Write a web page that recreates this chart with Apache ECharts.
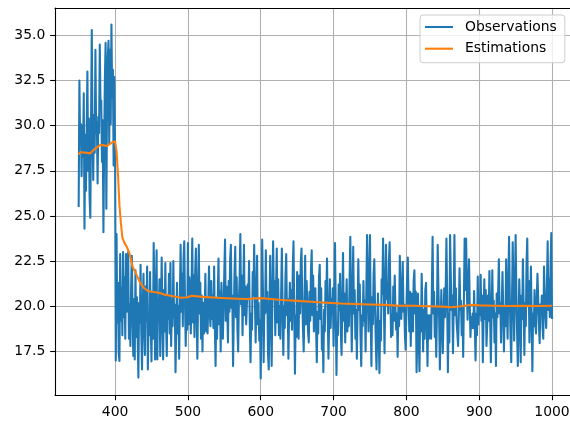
<!DOCTYPE html>
<html>
<head>
<meta charset="utf-8">
<script src="https://cdn.jsdelivr.net/npm/echarts@6/dist/echarts.min.js"></script>
<style>
  html, body { margin: 0; padding: 0; background: #ffffff; overflow: hidden; }
  #chart { width: 570px; height: 421px; }
</style>
</head>
<body>
<div id="chart"></div>
<script>
// Observations: one reading per step, starting at x = 350
const obsStart = 350;
const obsValues = [
  // 350 - 400
  25.5, 32.5, 29.0, 30.1, 27.2, 30.0, 28.3, 31.8, 24.3, 29.5,
  26.4, 29.8, 33.0, 27.5, 30.4, 26.0, 24.9, 30.2, 35.3, 29.8,
  27.0, 30.6, 28.5, 34.2, 29.6, 30.2, 26.8, 30.5, 29.6, 34.5,
  31.0, 31.4, 28.0, 30.3, 24.1, 29.0, 32.6, 34.6, 25.4, 31.4,
  33.8, 34.7, 29.0, 34.2, 30.1, 35.6, 31.6, 33.1, 27.8, 32.7,
  28.3,
  // 401 - 480
  17.0, 24.0, 19.1, 21.3, 17.4, 16.97, 22.9, 19.2, 21.0, 18.4,
  23.0, 19.4, 21.6, 18.2, 22.9, 19.7, 21.4, 23.0, 18.2, 20.1,
  17.8, 21.0, 22.8, 19.6, 17.25, 20.4, 17.06, 22.0, 18.3, 20.5,
  18.4, 16.05, 20.2, 19.1, 22.3, 18.6, 16.5, 20.0, 21.8, 18.8,
  17.3, 21.1, 19.2, 22.2, 16.5, 19.3, 18.4, 21.9, 19.0, 16.95,
  20.7, 18.2, 23.5, 20.8, 17.05, 20.2, 23.1, 17.05, 20.4, 19.6,
  21.5, 17.25, 19.8, 22.7, 19.5, 17.05, 20.9, 18.6, 22.4, 19.1,
  17.25, 20.6, 19.3, 21.8, 18.5, 22.4, 17.8, 20.3, 18.9, 22.5,
  // 481 - 620
  19.4, 20.1, 16.35, 18.9, 21.3, 18.5, 20.0, 17.1, 20.6, 23.4,
  19.7, 21.8, 18.9, 22.6, 23.6, 20.3, 17.8, 20.4, 18.7, 23.5,
  19.0, 21.6, 20.4, 18.5, 21.2, 23.75, 19.1, 21.7, 18.3, 22.0,
  23.2, 19.4, 17.1, 20.8, 23.4, 19.6, 21.3, 18.2, 20.6, 17.5,
  20.2, 18.5, 19.7, 21.8, 18.6, 20.4, 18.5, 20.3, 22.2, 19.6,
  18.9, 21.4, 19.3, 20.6, 18.8, 22.2, 19.0, 16.7, 20.4, 18.2,
  20.5, 22.65, 19.0, 20.8, 17.5, 21.3, 19.6, 18.2, 20.0, 21.9,
  23.7, 19.2, 21.1, 19.8, 18.0, 21.4, 19.7, 22.6, 23.4, 19.9,
  20.6, 16.7, 19.5, 21.8, 23.3, 19.4, 21.6, 18.7, 17.5, 20.3,
  21.5, 24.0, 20.1, 21.7, 18.4, 20.8, 23.4, 19.5, 21.1, 19.0,
  18.9, 21.2, 20.4, 22.5, 19.0, 16.9, 19.6, 18.7, 21.9, 20.6,
  23.4, 20.5, 18.0, 20.3, 22.8, 19.0, 20.2, 18.1, 19.2, 16.0,
  19.6, 23.7, 21.0, 16.9, 20.4, 19.6, 23.1, 19.7, 20.8, 17.4,
  16.5, 19.9, 22.8, 19.3, 16.7, 20.5, 23.6, 20.4, 21.4, 18.4,
  // 621 - 750
  20.9, 23.2, 19.1, 21.5, 18.4, 20.0, 18.2, 20.6, 23.2, 20.1,
  17.3, 20.0, 18.8, 21.7, 22.9, 19.5, 20.4, 17.1, 19.6, 21.3,
  19.2, 20.9, 18.7, 22.1, 23.6, 19.8, 16.26, 19.5, 18.3, 21.9,
  20.0, 18.2, 21.7, 19.6, 22.4, 23.2, 20.4, 18.8, 17.5, 20.0,
  22.8, 19.0, 21.4, 20.2, 18.6, 18.0, 20.8, 19.2, 22.0, 23.1,
  19.5, 21.7, 18.6, 20.4, 21.0, 18.8, 16.9, 19.7, 18.5, 21.6,
  22.3, 19.3, 21.0, 17.6, 18.9, 16.35, 19.8, 18.6, 21.4, 20.2,
  22.65, 19.6, 17.1, 19.3, 21.5, 18.8, 20.4, 19.6, 21.0, 17.8,
  20.6, 23.5, 19.9, 16.2, 19.1, 18.4, 21.2, 19.8, 21.8, 18.6,
  17.3, 20.1, 22.95, 19.2, 20.7, 18.0, 19.9, 21.5, 18.6, 19.8,
  18.9, 21.4, 23.85, 20.2, 17.5, 20.4, 23.3, 19.6, 20.9, 18.2,
  19.8, 17.1, 19.8, 22.6, 19.8, 21.2, 18.4, 16.7, 19.5, 18.9,
  21.4, 19.2, 20.3, 17.5, 20.8, 23.95, 21.0, 18.6, 21.7, 23.95,
  // 751 - 880
  19.4, 16.7, 20.5, 19.0, 21.8, 22.6, 19.9, 18.0, 16.5, 18.8,
  20.7, 18.5, 16.3, 19.2, 18.1, 21.5, 20.7, 23.75, 20.6, 17.4,
  20.9, 23.4, 20.4, 21.3, 19.6, 22.5, 23.55, 20.8, 18.3, 19.5,
  18.4, 21.1, 19.2, 21.7, 19.8, 18.7, 19.6, 17.2, 20.0, 18.9,
  22.8, 20.5, 19.3, 20.8, 22.45, 19.7, 20.1, 18.4, 17.6, 19.8,
  21.5, 22.7, 20.3, 18.6, 20.8, 17.8, 20.7, 19.5, 18.6, 21.4,
  22.0, 19.6, 20.8, 16.35, 18.5, 20.7, 18.2, 16.4, 20.0, 18.6,
  21.8, 19.7, 17.5, 19.8, 18.2, 20.9, 21.3, 18.9, 16.7, 19.5,
  18.2, 19.5, 18.9, 18.2, 21.0, 23.85, 19.6, 20.8, 18.3, 19.9,
  17.2, 19.8, 23.4, 20.9, 19.3, 16.5, 18.9, 20.9, 19.1, 17.4,
  19.3, 21.0, 19.4, 21.0, 23.75, 20.5, 16.35, 19.6, 18.0, 23.95,
  21.7, 19.8, 20.6, 17.4, 20.2, 23.95, 19.5, 21.0, 19.1, 18.5,
  17.8, 19.5, 22.1, 19.8, 20.3, 18.4, 19.9, 17.2, 20.4, 23.75,
  // 881 - 1000
  20.9, 23.75, 21.0, 19.25, 21.2, 22.6, 20.1, 18.3, 19.4, 18.8,
  19.6, 18.8, 20.85, 18.9, 17.0, 19.6, 18.4, 21.65, 19.0, 20.1,
  19.5, 21.75, 19.2, 20.6, 16.9, 19.4, 21.5, 19.3, 20.9, 17.8,
  19.0, 20.6, 19.2, 21.95, 19.4, 16.9, 19.5, 22.0, 19.4, 20.3,
  18.0, 19.6, 16.7, 20.7, 19.4, 20.8, 22.6, 19.6, 20.2, 18.0,
  20.1, 21.9, 19.8, 17.5, 20.0, 18.9, 22.6, 19.9, 18.2, 21.3,
  23.85, 20.5, 18.4, 16.9, 20.2, 23.55, 20.9, 18.1, 21.0, 23.95,
  20.8, 18.6, 16.7, 18.7, 21.5, 19.8, 16.9, 20.6, 19.3, 22.6,
  20.1, 17.3, 20.2, 18.9, 22.4, 23.75, 20.0, 21.4, 18.0, 19.8,
  22.2, 19.5, 16.4, 19.6, 18.9, 20.9, 19.1, 18.5, 20.3, 21.8,
  20.4, 19.0, 17.95, 20.1, 19.7, 20.6, 18.8, 18.2, 22.2, 20.6,
  19.5, 18.8, 21.1, 23.6, 19.8, 21.5, 19.4, 22.3, 24.05, 19.3
];

// Estimation curve, sampled where it bends
const estX = [350, 352, 358, 366, 373, 380, 389, 396, 400, 402, 404, 406, 408, 410,
  413, 416, 420, 424, 430, 435, 440, 445, 450, 460, 470, 480, 490, 500, 505,
  520, 540, 560, 580, 600, 610, 630, 650, 670, 690, 710, 730, 750, 770, 790,
  810, 830, 850, 862, 875, 890, 900, 920, 940, 960, 980, 1000];
const estY = [28.40, 28.53, 28.52, 28.47, 28.75, 28.94, 28.88, 29.08, 29.12, 28.6, 27.3, 25.6, 24.6, 23.8,
  23.5, 23.3, 22.9, 22.2, 21.7, 21.25, 21.0, 20.85, 20.8, 20.75, 20.62, 20.56, 20.47, 20.5, 20.58,
  20.52, 20.47, 20.43, 20.4, 20.45, 20.42, 20.35, 20.3, 20.25, 20.2, 20.15, 20.13, 20.1, 20.08, 20.03,
  20.03, 20.0, 19.98, 19.95, 20.0, 20.08, 20.05, 20.03, 20.02, 20.03, 20.02, 20.03];

// Tick marks
const xTicks = [400, 500, 600, 700, 800, 900, 1000];
const yTicks = [17.5, 20.0, 22.5, 25.0, 27.5, 30.0, 32.5, 35.0];

const obsData = obsValues.map((v, i) => [obsStart + i, v]);
const estData = estX.map((x, i) => [x, estY[i]]);

const FONT = 'DejaVu Sans';
const X_MIN = 317.5, X_MAX = 1032.5;
const chart = echarts.init(document.getElementById('chart'), null, { renderer: 'canvas' });

chart.setOption({
  animation: false,
  backgroundColor: '#ffffff',
  textStyle: { fontFamily: FONT },
  grid: {
    left: 55, top: 8, width: 520.7, height: 387.3,
    outerBoundsMode: 'none',
    show: false
  },
  legend: {
    orient: 'vertical',
    left: 420, top: 15,
    padding: [4, 8, 6, 5],
    itemGap: 5.7,
    itemWidth: 28, itemHeight: 2.1,
    backgroundColor: 'rgba(255,255,255,0.8)',
    borderColor: '#cccccc', borderWidth: 1, borderRadius: 3,
    textStyle: { fontFamily: FONT, fontSize: 13.9, color: '#000000', lineHeight: 16, padding: [0, 0, 0, 7] },
    data: [
      { name: 'Observations', icon: 'rect' },
      { name: 'Estimations', icon: 'rect' }
    ]
  },
  xAxis: [
    {
      type: 'value', min: X_MIN, max: X_MAX, position: 'bottom',
      axisLine: { show: true, onZero: false, lineStyle: { color: '#000000', width: 1.1 } },
      axisTick: { show: true, inside: false, length: 4.9, customValues: xTicks, lineStyle: { color: '#000000', width: 1.1 } },
      axisLabel: { customValues: xTicks, margin: 9.7, fontFamily: FONT, fontSize: 13.9, color: '#000000',
        formatter: v => String(Math.round(v)) },
      splitLine: { show: true, lineStyle: { color: '#b0b0b0', width: 1.1 } }
    },
    {
      // top frame line
      type: 'value', min: X_MIN, max: X_MAX, position: 'top',
      axisLine: { show: true, onZero: false, lineStyle: { color: '#000000', width: 1.1 } },
      axisTick: { show: false }, axisLabel: { show: false }, splitLine: { show: false }
    }
  ],
  yAxis: {
    type: 'value', min: 15.07, max: 36.52,
    axisLine: { show: true, onZero: false, lineStyle: { color: '#000000', width: 1.1 } },
    axisTick: { show: true, inside: false, length: 4.9, customValues: yTicks, lineStyle: { color: '#000000', width: 1.1 } },
    axisLabel: { customValues: yTicks, margin: 9.7, fontFamily: FONT, fontSize: 13.9, color: '#000000',
      formatter: v => v.toFixed(1) },
    splitLine: { show: true, lineStyle: { color: '#b0b0b0', width: 1.1 } }
  },
  series: [
    {
      name: 'Observations', type: 'line', data: obsData, xAxisIndex: 0,
      showSymbol: false, symbol: 'none', sampling: null,
      lineStyle: { color: '#1f77b4', width: 2.08, join: 'round', cap: 'butt' },
      itemStyle: { color: '#1f77b4' },
      z: 2
    },
    {
      name: 'Estimations', type: 'line', data: estData, xAxisIndex: 0,
      showSymbol: false, symbol: 'none',
      lineStyle: { color: '#ff7f0e', width: 2.08, join: 'round' },
      itemStyle: { color: '#ff7f0e' },
      z: 3
    }
  ]
});
</script>
</body>
</html>
